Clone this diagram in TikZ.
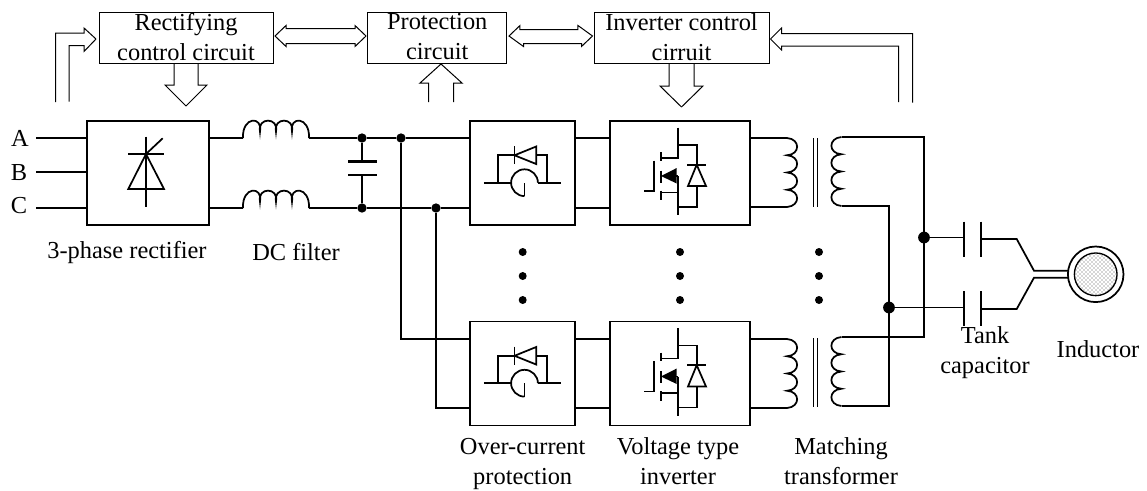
\documentclass[tikz,border=0pt]{standalone}
\usepackage{fontspec}
\setmainfont{Liberation Serif}
\usetikzlibrary{positioning,patterns}

\tikzset{
  wire/.style={line width=1.3pt},
  thinwire/.style={line width=0.8pt},
  hollow/.style={line width=0.75pt, line join=miter},
  ctrlbox/.style={draw, line width=0.75pt, inner sep=0, outer sep=0, minimum height=38.25pt},
  powerbox/.style={draw, line width=1.3pt, inner sep=0, outer sep=0, minimum height=78pt},
  caption/.style={align=center, inner sep=0},
  joint/.style={circle, fill=black, inner sep=0, minimum size=7pt},
  bigjoint/.style={circle, fill=black, inner sep=0, minimum size=8.8pt},
  stackdot/.style={circle, fill=black, inner sep=0, minimum size=6pt},
  coil/.pic={
    \draw[wire] (0,0) .. controls (-1,-22) and (20,-22) .. (17,-6.5)
      .. controls (14,-21) and (36,-21) .. (33,-6.5)
      .. controls (30,-21) and (52,-21) .. (49,-6.5)
      .. controls (46,-22) and (67,-22) .. (66,0);
  },
  winding/.pic={
    \draw[wire] (0,0) .. controls (1,-13.5) and (16.5,-13.5) .. (17.25,0)
      .. controls (18,-13.5) and (33.75,-13.5) .. (34.5,0)
      .. controls (35.25,-13.5) and (51,-13.5) .. (51.75,0)
      .. controls (52.5,-13.5) and (68,-13.5) .. (69,0);
  },
  % drawn around the centre of its box
  limiter/.pic={
    \draw[wire] (-38.7,9.7) -- (-11.3,9.7);
    \draw[wire] (15.4,9.7) -- (38.7,9.7);
    \draw[wire] (2,23.1) arc[start angle=90, delta angle=270, radius=13.4];
    \draw[wire] (2,23.1) -- (2,9.7);
    \draw[wire] (-24.5,9.7) -- (-24.5,-17.7) -- (-8,-17.7);
    \draw[wire] (13.7,-17.7) -- (24.7,-17.7) -- (24.7,9.7);
    \draw[wire] (-8,-27) -- (-8,-8.7);
    \draw[wire] (-8,-17.7) -- (13.7,-26.5) -- (13.7,-9) -- cycle;
  },
  switch/.pic={
    \draw[wire] (-1.7,-45.3) -- (-1.7,-15) -- (-19,-15);
    \draw[wire] (-1.7,3) -- (-1.7,42);
    \draw[wire] (-19,19.5) -- (-1.7,19.5);
    \draw[wire] (-19,-21) -- (-19,-12.3);
    \draw[wire] (-19,-2.3) -- (-19,9.7);
    \draw[wire] (-19,17.7) -- (-19,27);
    \draw[wire] (-25.7,-12.3) -- (-25.7,18) -- (-35.7,18);
    \draw[wire] (-10,3) -- (-1.7,3);
    \fill (-19,3) -- (-3.3,-5) -- (-3.3,10.5) -- cycle;
    \draw[wire] (-1.7,-28) -- (16.7,-28) -- (16.7,-8.3);
    \draw[wire] (16.7,13) -- (16.7,34) -- (-1.7,34);
    \draw[wire] (7.3,-8.3) -- (26,-8.3);
    \draw[wire] (16.7,-8.3) -- (8,13) -- (26,13) -- cycle;
  },
}

\begin{document}
\begin{tikzpicture}[x=0.75pt, y=-0.75pt, font=\fontsize{18.3}{22.5}\selectfont]
\useasboundingbox (0,0) rectangle (1147,490);

% control boxes
\node[ctrlbox, minimum width=130.5pt] (rectctrl) at (186,37.5) {};
\node[ctrlbox, minimum width=104.6pt] (protctrl) at (437.25,37.5) {};
\node[ctrlbox, minimum width=131.25pt] (invctrl) at (681.5,37.5) {};
\node[caption] (rectctrllbl) at (186,37) {Rectifying\\control circuit};
\node[caption] (protctrllbl) at (437.25,37) {Protection\\circuit};
\node[caption] (invctrllbl) at (681.5,37) {Inverter control\\cirruit};

% power boxes
\node[powerbox, minimum width=91.5pt] (rectifier) at (148,173) {};
\node[powerbox, minimum width=78.75pt] (limitup) at (522.5,173) {};
\node[powerbox, minimum width=105pt] (invup) at (680,173) {};
\node[powerbox, minimum width=78.75pt] (limitlo) at (522.5,373.5) {};
\node[powerbox, minimum width=105pt] (invlo) at (680,373.5) {};

\pic at (limitup) {limiter};
\pic at (limitlo) {limiter};
\pic at (invup) {switch};
\pic at (invlo) {switch};

% thyristor
\draw[wire] (146,136.7) -- (146,206.7);
\draw[wire] (128.3,154) -- (164,154);
\draw[wire] (146,154) -- (162.7,138.3);
\draw[wire] (146,154) -- (128.3,189) -- (164,189) -- cycle;

% hollow arrows
\draw[hollow] ([shift={(-3,1.5)}]rectctrl.west) -- ++(-12,-11) -- ++(0,5) -- ++(-28.5,0) -- ++(0,69);
\draw[hollow] ([shift={(-3,1.5)}]rectctrl.west) -- ++(-12,12.5) -- ++(0,-6) -- ++(-15,0) -- ++(0,56);
\draw[hollow] ([shift={(-12,0)}]rectctrl.south) -- ++(0,22) -- ++(-9,0) -- ++(21,21);
\draw[hollow] ([shift={(12,0)}]rectctrl.south) -- ++(0,22) -- ++(9,0) -- ++(-21,21);
\draw[hollow] ([shift={(2,-1.5)}]rectctrl.east) -- ++(11,-10.5) -- ++(0,3) -- ++(69,0) -- ++(0,-3)
  -- ([shift={(-1.5,-1.5)}]protctrl.west) -- ++(-11,10.5) -- ++(0,-3) -- ++(-69,0) -- ++(0,3) -- cycle;
\draw[hollow] ([shift={(2,-1.5)}]protctrl.east) -- ++(11,-10.5) -- ++(0,4) -- ++(58,0) -- ++(0,-4)
  -- ([shift={(-1.5,-1.5)}]invctrl.west) -- ++(-11,10.5) -- ++(0,-3) -- ++(-58,0) -- ++(0,3) -- cycle;
\draw[hollow] ([shift={(3.75,1)}]protctrl.south) -- ++(-21,19) -- ++(8.5,0) -- ++(0,19);
\draw[hollow] ([shift={(3.75,1)}]protctrl.south) -- ++(21,19) -- ++(-8.5,0) -- ++(0,19);
\draw[hollow] ([shift={(-12.5,0)}]invctrl.south) -- ++(0,23) -- ++(-9,0) -- ++(21.5,21);
\draw[hollow] ([shift={(12.5,0)}]invctrl.south) -- ++(0,23) -- ++(9,0) -- ++(-21.5,21);
\draw[hollow] ([shift={(1.5,1.5)}]invctrl.east) -- ++(11,-11) -- ++(0,5.5) -- ++(131,0) -- ++(0,69);
\draw[hollow] ([shift={(1.5,1.5)}]invctrl.east) -- ++(11,11) -- ++(0,-4) -- ++(117,0) -- ++(0,56);

% rails
\coordinate (upA) at (0,138);
\coordinate (upB) at (0,208);
\coordinate (loA) at (0,339);
\coordinate (loB) at (0,408);

% phases
\node[caption] (labA) at (20,138) {A};
\node[caption] (labB) at (19,173) {B};
\node[caption] (labC) at (19,206) {C};
\coordinate (inA) at (36,138);
\coordinate (inB) at (36,172);
\coordinate (inC) at (36,208);
\draw[wire] (inA) -- (rectifier.west |- inA);
\draw[wire] (inB) -- (rectifier.west |- inB);
\draw[wire] (inC) -- (rectifier.west |- inC);

% dc filter
\coordinate (fltAin) at (243,138);
\coordinate (fltAout) at (309,138);
\coordinate (fltBin) at (243,208);
\coordinate (fltBout) at (309,208);
\pic at (fltAin) {coil};
\pic at (fltBin) {coil};
\draw[wire] (rectifier.east |- fltAin) -- (fltAin);
\draw[wire] (rectifier.east |- fltBin) -- (fltBin);
\node[joint] (capA) at (362,138) {};
\node[joint] (capB) at (362,208) {};
\node[joint] (feedA) at (401,138) {};
\node[joint] (feedB) at (436,208) {};
\coordinate (plateA) at (362,161.5);
\coordinate (plateB) at (362,175);
\draw[wire] (fltAout) -- (capA);
\draw[wire] (capA) -- (feedA);
\draw[wire] (feedA) -- (limitup.west |- upA);
\draw[wire] (fltBout) -- (capB);
\draw[wire] (capB) -- (feedB);
\draw[wire] (feedB) -- (limitup.west |- upB);
\draw[wire] (capA) -- (plateA);
\draw[wire] (capB) -- (plateB);
\draw[line width=1.9pt] (348,161.5) -- (377,161.5);
\draw[wire] (348,175) -- (377,175);
\draw[wire] (feedA) |- (limitlo.west |- loA);
\draw[wire] (feedB) |- (limitlo.west |- loB);

% between the boxes
\draw[wire] (limitup.east |- upA) -- (invup.west |- upA);
\draw[wire] (limitup.east |- upB) -- (invup.west |- upB);
\draw[wire] (limitlo.east |- loA) -- (invlo.west |- loA);
\draw[wire] (limitlo.east |- loB) -- (invlo.west |- loB);

% transformers
\coordinate (priUpA) at (787,138);
\coordinate (priUpB) at (787,207);
\coordinate (priLoA) at (787,339);
\coordinate (priLoB) at (787,408);
\coordinate (secUpA) at (841.5,137);
\coordinate (secUpB) at (841.5,206);
\coordinate (secLoA) at (841.5,337);
\coordinate (secLoB) at (841.5,406);
\pic[rotate=-90] at (priUpA) {winding};
\pic[rotate=-90] at (priLoA) {winding};
\pic[rotate=-90, yscale=-1] at (secUpA) {winding};
\pic[rotate=-90, yscale=-1] at (secLoA) {winding};
\draw[wire] (invup.east |- priUpA) -- (priUpA);
\draw[wire] (invup.east |- priUpB) -- (priUpB);
\draw[wire] (invlo.east |- priLoA) -- (priLoA);
\draw[wire] (invlo.east |- priLoB) -- (priLoB);
\draw[thinwire] (813.5,138) -- (813.5,207);
\draw[thinwire] (817.5,138) -- (817.5,207);
\draw[thinwire] (813.5,338) -- (813.5,407);
\draw[thinwire] (817.5,338) -- (817.5,407);

% output bus
\node[bigjoint] (tankA) at (924,237.5) {};
\node[bigjoint] (tankB) at (889,307.5) {};
\coordinate (busAtop) at (924,137);
\coordinate (busAbot) at (924,337);
\coordinate (busBtop) at (889,206);
\coordinate (busBbot) at (889,406);
\draw[wire] (secUpA) -- (busAtop) -- (busAbot) -- (secLoA);
\draw[wire] (secUpB) -- (busBtop) -- (busBbot) -- (secLoB);

% tank
\coordinate (capAin) at (964,237.5);
\coordinate (capAout) at (981,239);
\coordinate (capBin) at (964,307.5);
\coordinate (capBout) at (981,309);
\coordinate (bendA) at (1016.7,239);
\coordinate (bendB) at (1016.7,309);
\coordinate (forkA) at (1034,270.7);
\coordinate (forkB) at (1034,277.7);
\draw[wire] (tankA) -- (capAin);
\draw[wire] (tankB) -- (capBin);
\draw[wire] (964,221.5) -- (964,256.5);
\draw[wire] (981,221.5) -- (981,256.5);
\draw[wire] (964,291) -- (964,326);
\draw[wire] (981,291) -- (981,326);

% inductor
\node[draw, circle, line width=1.3pt, inner sep=0, outer sep=0, minimum size=41.7pt] (workcoil) at (1095.7,274.3) {};
\node[draw, circle, line width=1pt, inner sep=0, outer sep=0, minimum size=32pt, pattern=crosshatch dots, pattern color=black!70] (workpiece) at (workcoil) {};
\draw[wire] (capAout) -- (bendA) -- (forkA) -- ([shift={(0,-3.6)}]workcoil.west);
\draw[wire] (capBout) -- (bendB) -- (forkB) -- ([shift={(0,3.4)}]workcoil.west);

% stack dots
\node[stackdot] (dotA1) at (522.7,252) {};
\node[stackdot] (dotA2) at (522.7,276) {};
\node[stackdot] (dotA3) at (522.7,300) {};
\node[stackdot] (dotB1) at (680,252) {};
\node[stackdot] (dotB2) at (680,276) {};
\node[stackdot] (dotB3) at (680,300) {};
\node[stackdot] (dotC1) at (819,252) {};
\node[stackdot] (dotC2) at (819,276) {};
\node[stackdot] (dotC3) at (819,300) {};

% captions
\node[caption] (lblrect) at (127,253) {3-phase rectifier};
\node[caption] (lblfilter) at (296,252) {DC filter};
\node[caption] (lblover) at (522.7,464) {Over-current\\protection};
\node[caption] (lblvolt) at (678,461) {Voltage type\\inverter};
\node[caption] (lblmatch) at (841,461) {Matching\\transformer};
\node[caption] (lbltank) at (985,352.5) {Tank\\capacitor};
\node[caption] (lblind) at (1098,349) {Inductor};
\end{tikzpicture}
\end{document}
